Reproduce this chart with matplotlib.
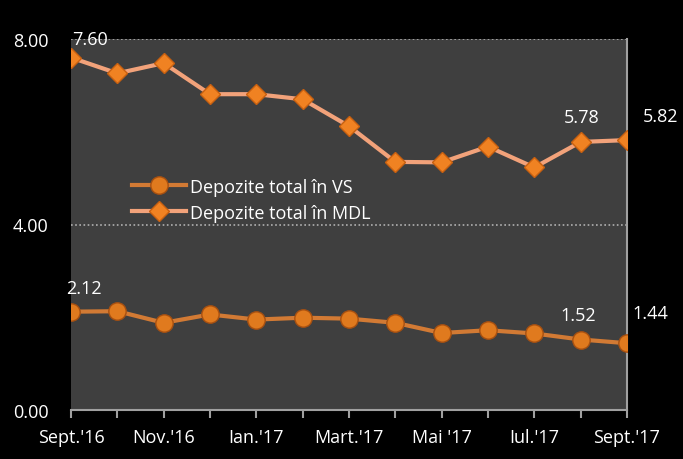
import matplotlib.pyplot as plt
import numpy as np

plt.rc('font', family='Open Sans')

months = ["Sept.'16", "Oct.'16", "Nov.'16", "Dec.'16", "Ian.'17", "Feb.'17", "Mart.'17",
          "Apr.'17", "Mai '17", "Iun.'17", "Iul.'17", "Aug.'17", "Sept.'17"]
shown = ["Sept.'16", "Nov.'16", "Ian.'17", "Mart.'17", "Mai '17", "Iul.'17", "Sept.'17"]
vs = [2.12, 2.13, 1.88, 2.06, 1.95, 1.99, 1.97, 1.88, 1.66, 1.72, 1.65, 1.52, 1.44]
mdl = [7.60, 7.26, 7.48, 6.81, 6.81, 6.70, 6.12, 5.35, 5.34, 5.68, 5.23, 5.78, 5.82]

x = np.arange(len(months))

fig = plt.figure(figsize=(6.83, 4.60), dpi=100, facecolor='black')
ax = fig.add_axes([71/683, 49/460, 556/683, 371/460])
ax.set_facecolor('#3f3f3f')

ax.plot(x, vs, color='#d27a34', lw=3, marker='o', ms=12.5,
        mfc='#e07a1e', mec='#a85010', mew=1, label='Depozite total în VS', zorder=3)
ax.plot(x, mdl, color='#f2a27a', lw=3, marker='D', ms=10,
        mfc='#f08222', mec='#c86010', mew=1, label='Depozite total în MDL', zorder=3)

ax.set_xlim(0, len(months) - 1)
ax.set_ylim(0, 8)
ax.set_yticks([0, 4, 8])
ax.set_yticklabels(['0.00', '4.00', '8.00'])
ax.set_xticks(x)
ax.set_xticklabels([m if m in shown else '' for m in months])

ax.grid(axis='y', color='#b0b0b0', ls=(0, (1, 1.5)), lw=1.2)
ax.set_axisbelow(True)
for s in ['top', 'left']:
    ax.spines[s].set_visible(False)
ax.spines['bottom'].set_color('#a0a0a0')
ax.spines['bottom'].set_linewidth(1.5)
ax.spines['right'].set_color('#a0a0a0')
ax.spines['right'].set_linewidth(1.5)

ax.tick_params(axis='x', colors='#a0a0a0', length=6, width=1.5, labelcolor='white',
               labelsize=13, pad=7)
ax.tick_params(axis='y', length=0, labelcolor='white', labelsize=13, pad=16)

# data labels (offsets in points from the marker)
lab = dict(color='white', fontsize=13, textcoords='offset points', va='center')
ax.annotate('%.2f' % mdl[0], (x[0], mdl[0]), xytext=(1, 13), ha='left', **lab)
ax.annotate('%.2f' % mdl[11], (x[11], mdl[11]), xytext=(1, 18), ha='center', **lab)
ax.annotate('%.2f' % mdl[12], (x[12], mdl[12]), xytext=(24, 17), ha='center', **lab)
ax.annotate('%.2f' % vs[0], (x[0], vs[0]), xytext=(9, 17), ha='center', **lab)
ax.annotate('%.2f' % vs[11], (x[11], vs[11]), xytext=(-2, 18), ha='center', **lab)
ax.annotate('%.2f' % vs[12], (x[12], vs[12]), xytext=(17, 22), ha='center', **lab)

leg = ax.legend(loc='upper left', bbox_to_anchor=(0.08, 0.67), frameon=False,
                fontsize=13, handlelength=3.0, labelspacing=0.45, handletextpad=0.2)
for t in leg.get_texts():
    t.set_color('white')

fig.savefig('out.png', dpi=100, facecolor='black')
